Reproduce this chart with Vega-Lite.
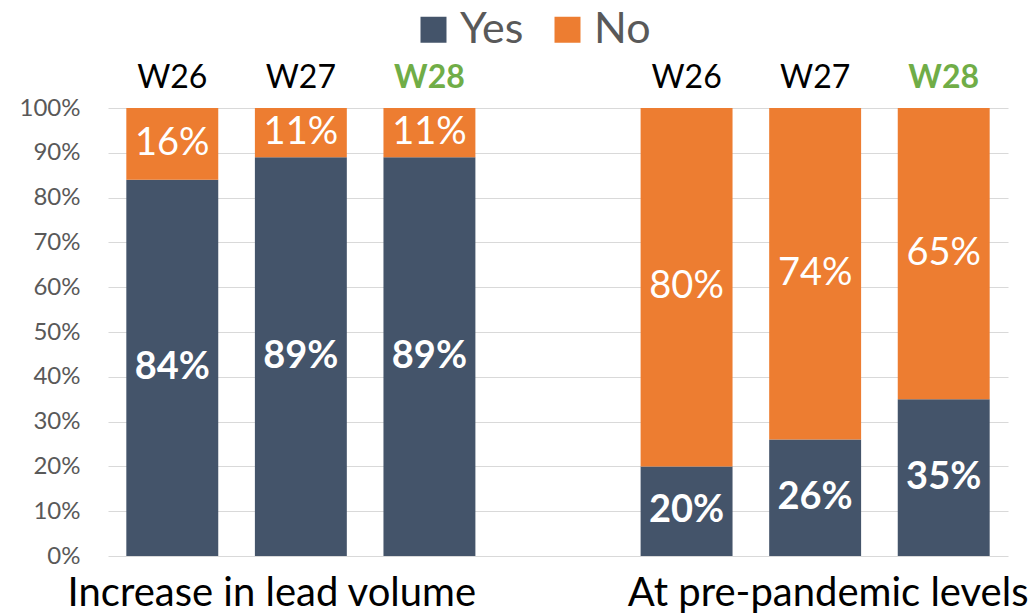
{
  "$schema": "https://vega.github.io/schema/vega-lite/v6.json",
  "width": 900,
  "height": 448,
  "autosize": {"type": "none"},
  "padding": {"left": 108, "top": 108, "right": 22, "bottom": 57},
  "config": {"view": {"stroke": null}, "font": "Lato"},
  "data": {
    "values": [
      {"slot": "a|W26", "answer": "Yes", "value": 0.84},
      {"slot": "a|W26", "answer": "No", "value": 0.16},
      {"slot": "b|W27", "answer": "Yes", "value": 0.89},
      {"slot": "b|W27", "answer": "No", "value": 0.11},
      {"slot": "c|W28", "answer": "Yes", "value": 0.89},
      {"slot": "c|W28", "answer": "No", "value": 0.11},
      {"slot": "e|W26", "answer": "Yes", "value": 0.20},
      {"slot": "e|W26", "answer": "No", "value": 0.80},
      {"slot": "f|W27", "answer": "Yes", "value": 0.26},
      {"slot": "f|W27", "answer": "No", "value": 0.74},
      {"slot": "g|W28", "answer": "Yes", "value": 0.35},
      {"slot": "g|W28", "answer": "No", "value": 0.65}
    ]
  },
  "resolve": {"axis": {"x": "independent"}},
  "layer": [
    {
      "mark": {"type": "bar"},
      "encoding": {
        "x": {
          "field": "slot", "type": "nominal",
          "scale": {"domain": ["a|W26", "b|W27", "c|W28", "d", "e|W26", "f|W27", "g|W28"], "paddingInner": 0.285, "paddingOuter": 0.1425},
          "axis": {
            "orient": "top", "title": null, "domain": false, "ticks": false, "grid": false,
            "labelAngle": 0,
            "labelExpr": "indexof(datum.value,'|')>=0 ? split(datum.value,'|')[1] : ''",
            "labelFontSize": 32, "labelPadding": 14,
            "labelColor": {"condition": {"test": "indexof(datum.value,'W28')>=0", "value": "#70AD47"}, "value": "#000000"},
            "labelFontWeight": {"condition": {"test": "indexof(datum.value,'W28')>=0", "value": "bold"}, "value": "normal"}
          }
        },
        "y": {
          "field": "value", "type": "quantitative", "stack": "zero",
          "scale": {"domain": [0, 1]},
          "axis": {
            "title": null, "domain": false, "ticks": false, "format": ".0%",
            "values": [0, 0.1, 0.2, 0.3, 0.4, 0.5, 0.6, 0.7, 0.8, 0.9, 1],
            "labelFontSize": 24, "labelColor": "#595959", "labelPadding": 28,
            "gridColor": "#D9D9D9", "gridWidth": 1
          }
        },
        "color": {
          "field": "answer", "type": "nominal",
          "scale": {"domain": ["Yes", "No"], "range": ["#44546A", "#ED7D31"]},
          "legend": {
            "orient": "none", "legendX": 304, "legendY": -100, "direction": "horizontal",
            "title": null, "symbolType": "square", "symbolSize": 676, "symbolStrokeWidth": 0,
            "labelFontSize": 43, "labelColor": "#595959", "labelOffset": 5, "columnPadding": 22, "padding": 0
          }
        },
        "order": {"field": "answer", "sort": "descending"}
      }
    },
    {
      "transform": [
        {"stack": "value", "groupby": ["slot"], "sort": [{"field": "answer", "order": "descending"}], "as": ["v0", "v1"]},
        {"calculate": "(datum.v0 + datum.v1) / 2", "as": "mid"}
      ],
      "encoding": {
        "x": {
          "field": "slot", "type": "nominal",
          "axis": {
            "orient": "bottom", "title": null, "domain": false, "ticks": false, "grid": false,
            "labelAngle": 0, "labelOverlap": false, "labelLimit": 1000, "labelBound": false,
            "labelExpr": "datum.value == 'b|W27' ? 'Increase in lead volume' : datum.value == 'f|W27' ? 'At pre-pandemic levels' : ''",
            "labelFontSize": 40, "labelColor": "#000000", "labelPadding": 17,
            "labelOffset": {"condition": {"test": "datum.value == 'b|W27'", "value": -29}, "value": 13}
          }
        },
        "y": {
          "field": "mid", "type": "quantitative",
          "axis": {
            "title": null, "domain": false, "ticks": false, "format": ".0%",
            "values": [0, 0.1, 0.2, 0.3, 0.4, 0.5, 0.6, 0.7, 0.8, 0.9, 1],
            "labelFontSize": 24, "labelColor": "#595959", "labelPadding": 28,
            "gridColor": "#D9D9D9", "gridWidth": 1
          }
        },
        "text": {"field": "value", "type": "quantitative", "format": ".0%"}
      },
      "layer": [
        {
          "transform": [{"filter": "datum.answer == 'Yes'"}],
          "mark": {"type": "text", "color": "#FFFFFF", "fontSize": 38, "fontWeight": "bold", "baseline": "middle"}
        },
        {
          "transform": [{"filter": "datum.answer == 'No'"}],
          "mark": {"type": "text", "color": "#FFFFFF", "fontSize": 38, "fontWeight": "normal", "baseline": "middle"}
        }
      ]
    }
  ]
}
